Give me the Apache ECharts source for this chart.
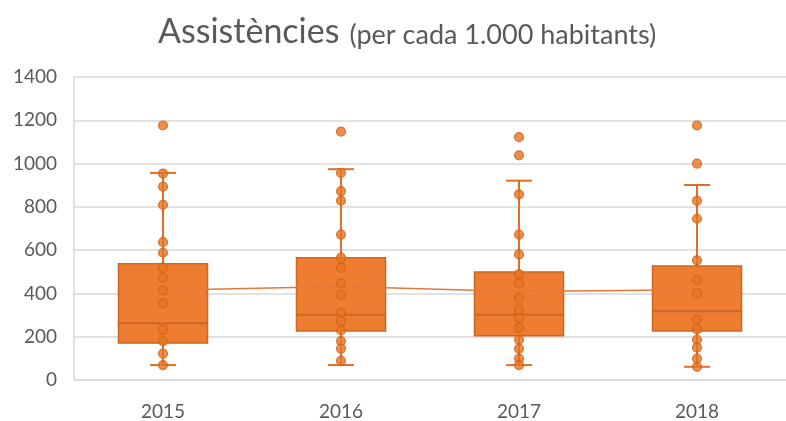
<!DOCTYPE html>
<html>
<head>
<meta charset="utf-8">
<script src="https://cdn.jsdelivr.net/npm/echarts@6/dist/echarts.min.js"></script>
<style>
  html, body { margin: 0; padding: 0; background: #fff; }
  #chart { width: 786px; height: 421px; }
</style>
</head>
<body>
<div id="chart"></div>
<script>
// anys (categories)
var years = ['2015', '2016', '2017', '2018'];

// caixes: bigoti inferior, Q1, mediana, Q3, bigoti superior
var whiskerLow = [69, 69, 69, 61];
var q1 = [171, 226, 205, 226];
var median = [262, 301, 301, 318];
var q3 = [537, 565, 499, 527];
var whiskerHigh = [957, 974, 921, 901];

// mitjanes
var means = [415, 432, 409, 417];

// punts de cada any
var points2015 = [1176, 954, 893, 809, 637, 588, 519, 473, 415, 354, 232, 180, 122, 69];
var points2016 = [1148, 957, 873, 829, 672, 565, 519, 446, 392, 310, 272, 229, 180, 145, 89];
var points2017 = [1122, 1038, 858, 672, 580, 489, 446, 379, 324, 287, 241, 186, 145, 99, 69];
var points2018 = [1176, 1000, 828, 745, 553, 463, 400, 279, 234, 186, 150, 99, 61];

var yTicks = [0, 200, 400, 600, 800, 1000, 1200, 1400];

var boxData = years.map(function (y, i) {
  return [i, whiskerLow[i], q1[i], median[i], q3[i], whiskerHigh[i]];
});

var scatterData = [];
[points2015, points2016, points2017, points2018].forEach(function (arr, i) {
  arr.forEach(function (v) { scatterData.push([i, v]); });
});

var chart = echarts.init(document.getElementById('chart'));

function renderBox(params, api) {
  var idx = api.value(0);
  var pLow = api.coord([idx, api.value(1)]);
  var pQ1 = api.coord([idx, api.value(2)]);
  var pMed = api.coord([idx, api.value(3)]);
  var pQ3 = api.coord([idx, api.value(4)]);
  var pHigh = api.coord([idx, api.value(5)]);
  var band = api.size([1, 0])[0];
  var w = band * 0.5;
  var cap = 13;
  var x = pMed[0];
  var stroke = '#CC6620';
  var wh = '#E06E25';
  return {
    type: 'group',
    children: [
      { type: 'line', shape: { x1: x, y1: pHigh[1], x2: x, y2: pQ3[1] }, style: { stroke: wh, lineWidth: 2 } },
      { type: 'line', shape: { x1: x, y1: pQ1[1], x2: x, y2: pLow[1] }, style: { stroke: wh, lineWidth: 2 } },
      { type: 'line', shape: { x1: x - cap, y1: pHigh[1], x2: x + cap, y2: pHigh[1] }, style: { stroke: wh, lineWidth: 2 } },
      { type: 'line', shape: { x1: x - cap, y1: pLow[1], x2: x + cap, y2: pLow[1] }, style: { stroke: wh, lineWidth: 2 } },
      { type: 'rect', shape: { x: x - w / 2, y: pQ3[1], width: w, height: pQ1[1] - pQ3[1] }, style: { fill: '#EE7D31', stroke: stroke, lineWidth: 1.5 } },
      { type: 'line', shape: { x1: x - w / 2, y1: pMed[1], x2: x + w / 2, y2: pMed[1] }, style: { stroke: stroke, lineWidth: 2 } }
    ]
  };
}

var option = {
  animation: false,
  backgroundColor: '#fff',
  title: {
    text: '{a|Assistències}  {b|(per cada 1.000 habitants)}',
    left: 153,
    top: 10,
    textStyle: {
      fontWeight: 'normal',
      rich: {
        a: { fontFamily: 'Lato', fontSize: 34, fontWeight: 'normal', color: '#595959' },
        b: { fontFamily: 'Lato', fontSize: 27, fontWeight: 'normal', color: '#595959', padding: [6, 0, 0, 0] }
      }
    }
  },
  grid: { left: 74, right: 0, top: 77, bottom: 41 },
  xAxis: {
    type: 'category',
    data: years,
    axisLine: { show: true, lineStyle: { color: '#D9D9D9', width: 1.5 } },
    axisTick: { show: false },
    axisLabel: { fontFamily: 'Lato', fontSize: 19, color: '#595959', margin: 22 },
    splitLine: { show: false }
  },
  yAxis: {
    type: 'value',
    min: 0,
    max: 1400,
    interval: 200,
    axisLine: { show: true, lineStyle: { color: '#D9D9D9', width: 1.5 } },
    axisTick: { show: false },
    axisLabel: {
      fontFamily: 'Lato', fontSize: 19, color: '#595959', margin: 17,
      formatter: function (v) { return yTicks.indexOf(v) >= 0 ? String(v) : ''; }
    },
    splitLine: { lineStyle: { color: '#D9D9D9', width: 1.5 } }
  },
  series: [
    {
      type: 'custom',
      renderItem: renderBox,
      data: boxData,
      encode: { x: 0, y: [1, 2, 3, 4, 5] },
      z: 2
    },
    {
      type: 'line',
      data: means,
      symbol: 'none',
      lineStyle: { color: '#E4793A', width: 1.5 },
      z: 3
    },
    {
      type: 'scatter',
      data: scatterData,
      symbolSize: 9,
      itemStyle: { color: '#E8731F', borderColor: '#C9621A', borderWidth: 1.2 },
      z: 4
    }
  ]
};

chart.setOption(option);
</script>
</body>
</html>
